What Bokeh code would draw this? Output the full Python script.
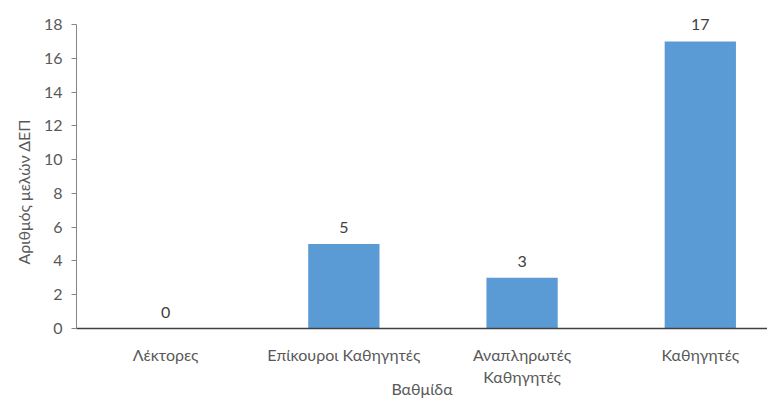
from bokeh.plotting import figure
from bokeh.models import ColumnDataSource, Range1d, FixedTicker, Title
from bokeh.embed import file_html
from bokeh.resources import INLINE
from bokeh.core.properties import value

categories = ["Λέκτορες", "Επίκουροι Καθηγητές", "Αναπληρωτές\nΚαθηγητές", "Καθηγητές"]
counts = [0, 5, 3, 17]
y_ticks = [0, 2, 4, 6, 8, 10, 12, 14, 16, 18]
x_title = "Βαθμίδα"
y_title = "Αριθμός μελών ΔΕΠ"

idx = list(range(len(categories)))
src = ColumnDataSource(dict(x=idx, top=counts, label=[str(c) for c in counts]))

FONT = "Lato"
TXT = "#595959"
p = figure(width=767, height=401, output_backend="svg", toolbar_location=None,
           x_range=Range1d(-0.5, 3.377), y_range=Range1d(0, 18.95),
           min_border_left=76, min_border_right=0, min_border_top=8, min_border_bottom=73)
p.outline_line_color = None
p.xgrid.visible = False
p.ygrid.visible = False

p.vbar(x="x", top="top", width=0.40, source=src, color="#5B9BD5", line_color=None)
p.text(x="x", y="top", text="label", source=src, text_align="center", text_baseline="bottom",
       y_offset=-11, text_font=value(FONT), text_font_size="16px", text_color="#404040")

xa = p.xaxis[0]
xa.ticker = FixedTicker(ticks=idx)
xa.major_label_overrides = {i: c for i, c in zip(idx, categories)}
xa.major_tick_line_color = None
xa.minor_tick_line_color = None
xa.axis_line_color = "#404040"
xa.axis_line_width = 1.3
xa.major_label_text_font = FONT
xa.major_label_text_font_size = "16px"
xa.major_label_text_color = TXT
xa.major_label_standoff = 10
xa.axis_label = x_title
xa.axis_label_text_font = FONT
xa.axis_label_text_font_style = "normal"
xa.axis_label_text_font_size = "16px"
xa.axis_label_text_color = TXT
xa.axis_label_standoff = -10

ya = p.yaxis[0]
ya.ticker = FixedTicker(ticks=y_ticks)
ya.bounds = (0, 18)
ya.minor_tick_line_color = None
ya.major_tick_in = 0
ya.major_tick_out = 5
ya.axis_line_color = "#868686"
ya.major_tick_line_color = "#868686"
ya.major_label_text_font = FONT
ya.major_label_text_font_size = "16px"
ya.major_label_text_color = TXT
ya.major_label_standoff = 9

p.add_layout(Title(text=y_title, align="left", offset=64, standoff=16,
                   text_font=FONT, text_font_style="normal", text_font_size="16px",
                   text_color=TXT), "left")

open("out.html", "w").write(file_html(p, INLINE))
